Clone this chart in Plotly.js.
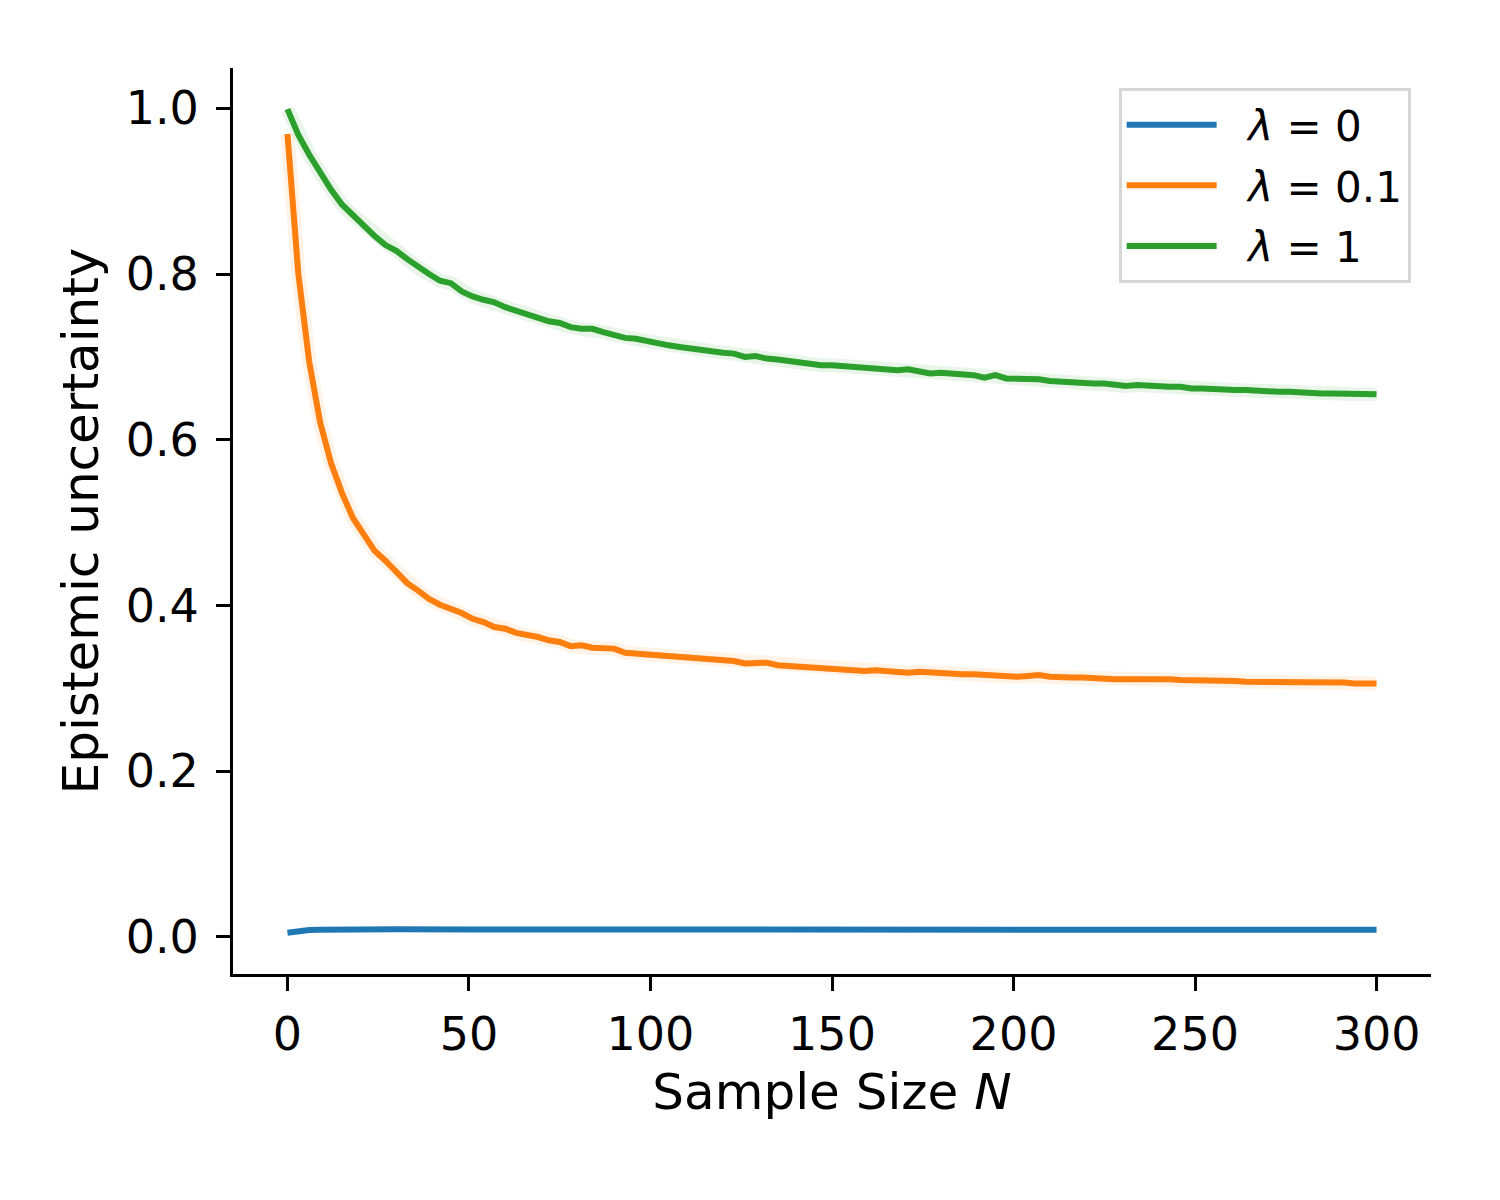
<!DOCTYPE html>
<html>
<head>
<meta charset="utf-8">
<script src="https://cdn.plot.ly/plotly-3.0.1.min.js"></script>
<style>
  body { margin: 0; background: #fff; }
  #plot { width: 1500px; height: 1200px; }
</style>
</head>
<body>
<div id="plot"></div>
<script>
// sample sizes, every 3rd N
const sampleN = [
  0, 3, 6, 9, 12, 15, 18, 21, 24, 27, 30, 33, 36, 39, 42, 45, 48, 51, 54, 57,
  60, 63, 66, 69, 72, 75, 78, 81, 84, 87, 90, 93, 96, 99, 102, 105, 108, 111, 114, 117,
  120, 123, 126, 129, 132, 135, 138, 141, 144, 147, 150, 153, 156, 159, 162, 165, 168, 171, 174, 177,
  180, 183, 186, 189, 192, 195, 198, 201, 204, 207, 210, 213, 216, 219, 222, 225, 228, 231, 234, 237,
  240, 243, 246, 249, 252, 255, 258, 261, 264, 267, 270, 273, 276, 279, 282, 285, 288, 291, 294, 297, 300
];

const lambda1 = [
  0.999, 0.968, 0.944, 0.922, 0.902, 0.884, 0.871, 0.860, 0.846, 0.835, 0.828, 0.818, 0.808, 0.800, 0.792, 0.789, 0.779, 0.773, 0.769, 0.766,
  0.760, 0.756, 0.752, 0.747, 0.743, 0.741, 0.736, 0.734, 0.734, 0.730, 0.727, 0.723, 0.722, 0.719, 0.717, 0.714, 0.712, 0.710, 0.709, 0.707,
  0.705, 0.704, 0.700, 0.701, 0.698, 0.697, 0.695, 0.694, 0.692, 0.690, 0.690, 0.689, 0.688, 0.687, 0.686, 0.685, 0.684, 0.685, 0.682, 0.680,
  0.681, 0.680, 0.679, 0.678, 0.675, 0.678, 0.674, 0.674, 0.673, 0.673, 0.671, 0.670, 0.669, 0.668, 0.668, 0.668, 0.666, 0.665, 0.666, 0.665,
  0.664, 0.664, 0.664, 0.662, 0.662, 0.661, 0.661, 0.660, 0.660, 0.659, 0.659, 0.658, 0.658, 0.657, 0.657, 0.656, 0.656, 0.656, 0.655, 0.655, 0.655
];

const lambda01 = [
  0.969, 0.800, 0.694, 0.621, 0.572, 0.536, 0.506, 0.487, 0.466, 0.454, 0.440, 0.427, 0.418, 0.408, 0.401, 0.396, 0.391, 0.384, 0.380, 0.374,
  0.372, 0.367, 0.365, 0.362, 0.358, 0.356, 0.351, 0.352, 0.349, 0.348, 0.348, 0.343, 0.342, 0.341, 0.340, 0.338, 0.337, 0.336, 0.335, 0.335,
  0.334, 0.333, 0.330, 0.330, 0.331, 0.328, 0.327, 0.326, 0.326, 0.325, 0.324, 0.323, 0.322, 0.321, 0.322, 0.321, 0.320, 0.319, 0.320, 0.319,
  0.318, 0.318, 0.317, 0.317, 0.316, 0.316, 0.315, 0.314, 0.315, 0.316, 0.314, 0.313, 0.313, 0.313, 0.312, 0.312, 0.311, 0.311, 0.311, 0.312,
  0.311, 0.311, 0.310, 0.310, 0.310, 0.309, 0.309, 0.309, 0.308, 0.308, 0.308, 0.307, 0.307, 0.307, 0.307, 0.307, 0.307, 0.307, 0.306, 0.306, 0.306
];

// lambda = 0 is flat, fewer points needed
const sampleN0 = [0, 3, 6, 9, 12, 15, 20, 30, 50, 100, 150, 200, 250, 300];
const lambda0 = [0.0050, 0.0074, 0.0083, 0.0088, 0.0090, 0.0091, 0.0092, 0.0092, 0.0091, 0.0089, 0.0088, 0.0087, 0.0086, 0.0086];

const seriesNames = ['&#160;&#160;<i>λ</i> = 0', '&#160;&#160;<i>λ</i> = 0.1', '&#160;&#160;<i>λ</i> = 1'];
const colors = ['#1f77b4', '#ff7f0e', '#2ca02c'];

const FONT = 'DejaVu Sans, sans-serif';

function halo(x, y, color) {
  // faint band around the mean curve
  return {
    x: x, y: y, mode: 'lines', type: 'scatter',
    line: { color: color, width: 14 },
    opacity: 0.1, showlegend: false, hoverinfo: 'skip'
  };
}

function curve(x, y, i) {
  return {
    x: x, y: y, mode: 'lines', type: 'scatter', name: seriesNames[i],
    legendgroup: 'g' + i,
    line: { color: colors[i], width: 6 }
  };
}

const traces = [
  halo(sampleN, lambda01, colors[1]),
  halo(sampleN, lambda1, colors[2]),
  curve(sampleN0, lambda0, 0),
  curve(sampleN, lambda01, 1),
  curve(sampleN, lambda1, 2)
];

const axisCommon = {
  showgrid: false, zeroline: false,
  showline: true, linecolor: '#000', linewidth: 3,
  ticks: 'outside', ticklen: 14, tickwidth: 3, tickcolor: '#000',
  tickfont: { family: FONT, size: 46, color: '#000' }
};

const layout = {
  width: 1500, height: 1200,
  paper_bgcolor: '#fff', plot_bgcolor: '#fff',
  margin: { l: 233, r: 69, t: 68, b: 226 },
  font: { family: FONT, color: '#000' },
  xaxis: Object.assign({}, axisCommon, {
    range: [-15, 315],
    tickvals: [0, 50, 100, 150, 200, 250, 300],
    ticklabelstandoff: 4,
    title: { text: 'Sample Size <i>N</i>', font: { family: FONT, size: 50, color: '#000' }, standoff: 14 }
  }),
  yaxis: Object.assign({}, axisCommon, {
    range: [-0.0447, 1.0487],
    tickvals: [0, 0.2, 0.4, 0.6, 0.8, 1.0],
    tickformat: '.1f',
    ticklabelstandoff: 8,
    title: { text: 'Epistemic uncertainty', font: { family: FONT, size: 50, color: '#000' }, standoff: 12 }
  }),
  legend: {
    x: 0.983, y: 0.978, xanchor: 'right', yanchor: 'top',
    bgcolor: 'rgba(255,255,255,0.8)', bordercolor: '#d6d6d6', borderwidth: 3,
    font: { family: FONT, size: 42, color: '#000' },
    itemwidth: 90, traceorder: 'grouped', tracegroupgap: 3
  },
  showlegend: true
};

Plotly.newPlot('plot', traces, layout, { staticPlot: true });
</script>
</body>
</html>
